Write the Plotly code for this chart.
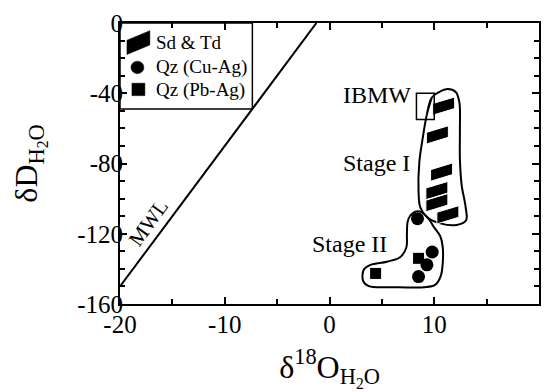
import plotly.graph_objects as go

# ---------------- data ----------------
# Sd & Td (Stage I) parallelogram centres
sd_x = [10.9, 10.3, 10.7, 10.25, 10.25, 11.3]
sd_y = [-47.3, -63.7, -84.9, -95.4, -102.3, -109.2]
# Qz (Cu-Ag) circles
cu_x = [8.4, 9.8, 9.3, 8.5]
cu_y = [-111.4, -130.4, -137.7, -144.4]
# Qz (Pb-Ag) squares
pb_x = [8.5, 4.4]
pb_y = [-134.0, -142.6]
# meteoric water line end points
mwl_x = [-20, -1.25]
mwl_y = [-150, 0]
# IBMW box (delta18O range, deltaD range)
ibmw_x = [8.3, 10.0]
ibmw_y = [-55, -40]
# Stage envelopes
stage1_x = [9.77, 9.29, 8.91, 8.57, 8.50, 8.67, 9.29, 10.57, 12.14, 13.04, 13.00,
            12.62, 12.45, 12.45, 12.40, 12.05, 11.29, 10.47]
stage1_y = [-42.4, -52.2, -65.1, -79.6, -95.9, -105.0, -110.5, -114.1, -115.0, -112.3,
            -105.0, -92.4, -77.8, -59.7, -45.2, -39.3, -37.6, -39.3]
stage2_x = [7.72, 8.19, 8.82, 9.45, 9.93, 10.57, 10.81, 10.81, 10.62, 10.09, 8.98, 6.13,
            3.75, 3.21, 3.28, 3.91, 5.49, 6.77, 7.34, 7.39, 7.46]
stage2_y = [-109.6, -107.4, -107.8, -111.4, -115.9, -121.4, -127.7, -136.8, -144.1, -149.1,
            -150.4, -150.4, -149.8, -146.8, -140.4, -137.7, -135.9, -133.2, -127.7, -120.4,
            -113.2]
x_ticks = [-20, -10, 0, 10, 20]
y_ticks = [0, -40, -80, -120, -160]
legend_labels = ["Sd &amp; Td", "Qz (Cu-Ag)", "Qz (Pb-Ag)"]

# ---------------- layout geometry ----------------
W, H = 551, 392
ML, MR, MT, MB = 120, 10, 17, 81
PW, PH = W - ML - MR, H - MT - MB
FONT = "Liberation Serif, Times New Roman, serif"


def px(xp):
    return (xp - ML) / PW


def py(yp):
    return (H - MB - yp) / PH


fig = go.Figure()

# MWL
fig.add_trace(go.Scatter(x=mwl_x, y=mwl_y, mode="lines",
                         line=dict(color="black", width=2), showlegend=False,
                         hoverinfo="skip"))


# envelopes (closed smooth curves)
def closed(xs, ys):
    return xs + xs[:2], ys + ys[:2]


for xs, ys in [(stage1_x, stage1_y), (stage2_x, stage2_y)]:
    cx, cy = closed(xs, ys)
    fig.add_trace(go.Scatter(x=cx, y=cy, mode="lines",
                             line=dict(color="black", width=2, shape="spline",
                                       smoothing=1.0),
                             showlegend=False, hoverinfo="skip"))

# parallelograms for Sd & Td
hw, hh, sh = 1.05, 3.3, 1.9
px_list, py_list = [], []
for cx, cy in zip(sd_x, sd_y):
    px_list += [cx - hw, cx - hw, cx + hw, cx + hw, cx - hw, None]
    py_list += [cy - hh - sh, cy + hh - sh, cy + hh + sh, cy - hh + sh, cy - hh - sh, None]
fig.add_trace(go.Scatter(x=px_list, y=py_list, mode="lines", fill="toself",
                         fillcolor="black", line=dict(color="white", width=1),
                         showlegend=False, hoverinfo="skip"))

# circles and squares
fig.add_trace(go.Scatter(x=cu_x, y=cu_y, mode="markers",
                         marker=dict(symbol="circle", size=13, color="black"),
                         showlegend=False))
fig.add_trace(go.Scatter(x=pb_x, y=pb_y, mode="markers",
                         marker=dict(symbol="square", size=11, color="black"),
                         showlegend=False))

# IBMW box
fig.add_shape(type="rect", x0=ibmw_x[0], x1=ibmw_x[1], y0=ibmw_y[0], y1=ibmw_y[1],
              line=dict(color="black", width=1.5), fillcolor="rgba(0,0,0,0)")

# text labels
lab_font = dict(family=FONT, size=24, color="black")
fig.add_annotation(x=ibmw_x[0] - 0.3, y=-41, text="IBMW", showarrow=False,
                   xanchor="right", yanchor="middle", font=lab_font)
fig.add_annotation(x=7.9, y=-79.5, text="Stage I", showarrow=False,
                   xanchor="right", yanchor="middle", font=lab_font)
fig.add_annotation(x=5.7, y=-125.7, text="Stage II", showarrow=False,
                   xanchor="right", yanchor="middle", font=lab_font)
fig.add_annotation(x=-17.3, y=-114, text="MWL", showarrow=False, textangle=-54,
                   font=dict(family=FONT, size=21, color="black"))

# ---------------- manual legend ----------------
fig.add_shape(type="rect", xref="paper", yref="paper", x0=px(120), x1=px(253),
              y0=py(107), y1=py(17), line=dict(color="black", width=1.5),
              fillcolor="white", layer="below")
fig.add_shape(type="path", xref="paper", yref="paper",
              path=f"M {px(127)},{py(50)} L {px(127)},{py(35)} L {px(150)},{py(25)} "
                   f"L {px(150)},{py(40)} Z",
              fillcolor="black", line=dict(color="black", width=0.5))
fig.add_shape(type="circle", xref="paper", yref="paper", x0=px(131), x1=px(144),
              y0=py(70), y1=py(57), fillcolor="black", line=dict(color="black", width=0.5))
fig.add_shape(type="rect", xref="paper", yref="paper", x0=px(132), x1=px(145),
              y0=py(93), y1=py(80), fillcolor="black", line=dict(color="black", width=0.5))
leg_font = dict(family=FONT, size=19, color="black")
for lbl, yp in zip(legend_labels, [37, 63, 87]):
    fig.add_annotation(xref="paper", yref="paper", x=px(154), y=py(yp), text=lbl,
                       showarrow=False, xanchor="left", yanchor="middle", font=leg_font)

# ---------------- axes ----------------
tick_font = dict(family=FONT, size=25, color="black")
fig.update_xaxes(range=[-20, 20], tickvals=x_ticks, ticktext=[str(v) for v in x_ticks],
                 ticks="inside", ticklen=7, tickwidth=1.5, tickcolor="black",
                 minor=dict(dtick=5, ticks="inside", ticklen=5, tickwidth=1.5,
                            tickcolor="black"),
                 showline=True, linecolor="black", linewidth=2, mirror="ticks",
                 showgrid=False, zeroline=False, tickfont=tick_font,
                 ticklabelstandoff=-3,
                 title=dict(text="δ<sup>18</sup>O<sub>H<sub>2</sub>O</sub>",
                            font=dict(family=FONT, size=32, color="black"),
                            standoff=22))
fig.update_yaxes(range=[-160, 0], tickvals=y_ticks, ticktext=[str(v) for v in y_ticks],
                 ticks="inside", ticklen=7, tickwidth=1.5, tickcolor="black",
                 minor=dict(dtick=10, ticks="inside", ticklen=5, tickwidth=1.5,
                            tickcolor="black"),
                 showline=True, linecolor="black", linewidth=2, mirror="ticks",
                 showgrid=False, zeroline=False, tickfont=tick_font,
                 ticklabelstandoff=-10,
                 title=dict(text="δD<sub>H<sub>2</sub>O</sub>",
                            font=dict(family=FONT, size=32, color="black"),
                            standoff=30))

fig.update_layout(width=W, height=H, margin=dict(l=ML, r=MR, t=MT, b=MB),
                  plot_bgcolor="white", paper_bgcolor="white", showlegend=False)

fig.write_html("out.html")
